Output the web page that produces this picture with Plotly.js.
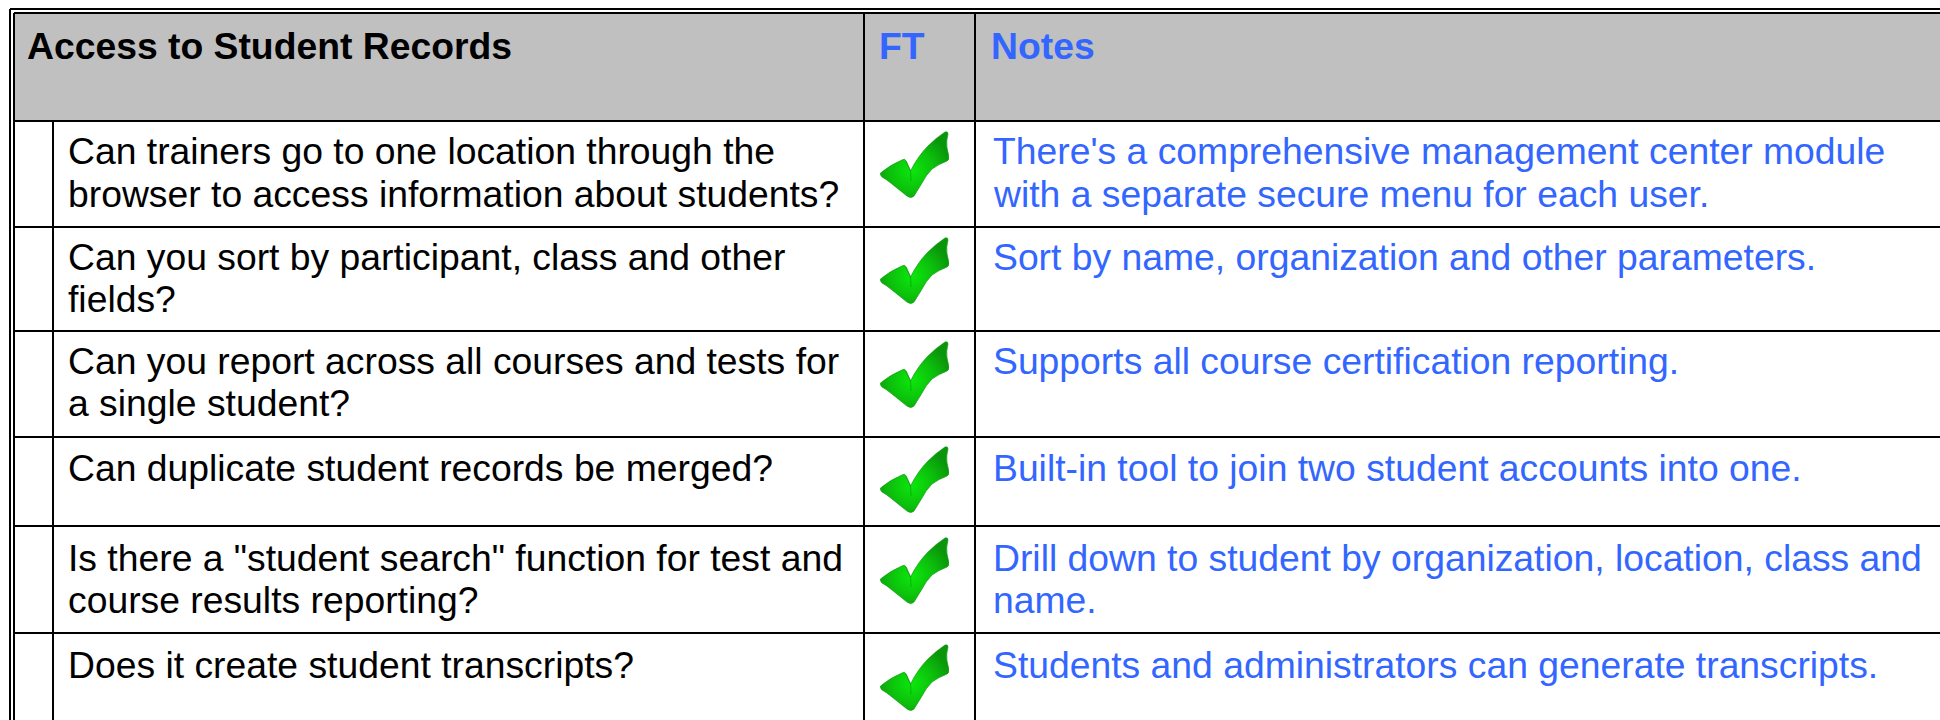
<!DOCTYPE html>
<html><head><meta charset="utf-8">
<script src="https://cdn.plot.ly/plotly-3.0.1.min.js"></script>
<style>html,body{margin:0;padding:0;background:#fff}#c{width:1940px;height:720px}</style>
</head><body><div id="c"></div>
<script>
var headers = ["Access to Student Records", "FT", "Notes"];
var questions = [
  ["Can trainers go to one location through the", "browser to access information about students?"],
  ["Can you sort by participant, class and other", "fields?"],
  ["Can you report across all courses and tests for", "a single student?"],
  ["Can duplicate student records be merged?"],
  ["Is there a \"student search\" function for test and", "course results reporting?"],
  ["Does it create student transcripts?"]
];
var notes = [
  ["There's a comprehensive management center module", "with a separate secure menu for each user."],
  ["Sort by name, organization and other parameters."],
  ["Supports all course certification reporting."],
  ["Built-in tool to join two student accounts into one."],
  ["Drill down to student by organization, location, class and", "name."],
  ["Students and administrators can generate transcripts."]
];
var ftChecked = [true, true, true, true, true, true];
var rowLines = [121, 227, 331, 437, 526, 633];
var baselines = [162, 267.5, 371.5, 478.5, 568.5, 675.5];
var checkTops = [131, 237, 341, 446, 537, 644];
var colLines = [14, 53, 864, 975];

var CHECK = 'data:image/svg+xml;base64,' + btoa('<svg xmlns="http://www.w3.org/2000/svg" width="69" height="67" viewBox="0 0 69 67"><defs><radialGradient id="g" cx="46%" cy="58%" r="58%"><stop offset="0" stop-color="#0ce80c"/><stop offset="0.55" stop-color="#0cc00c"/><stop offset="1" stop-color="#0a960a"/></radialGradient></defs><path d="M0.5 42 Q10 34 22 29 Q25 27 26 30 L30.5 40 Q38 25 48 15 Q56 7 65 1 Q68 0 68 3 Q66 10 67 17 L69 26 Q69 29 67 30 Q59 33 52 38 Q46 44 42 52 L34 65 Q31 68 27 65 L12 53 Q6 48 2 46 Q0 44 0.5 42 Z" fill="url(#g)" stroke="#129a12" stroke-width="0.7"/><path d="M26 30 L30.5 40 L31 50" fill="none" stroke="#0a8f0a" stroke-width="1.2" stroke-opacity="0.45"/></svg>');

var shapes = [], annotations = [], images = [];
function line(x0,y0,x1,y1,w){shapes.push({type:'line',xref:'x',yref:'y',x0:x0,y0:y0,x1:x1,y1:y1,line:{color:'#000',width:w}});}
shapes.push({type:'rect',xref:'x',yref:'y',x0:14,x1:1940,y0:13,y1:121,fillcolor:'#c0c0c0',line:{width:0},layer:'below'});
line(10,9,1940,9,2); line(10,9,10,720,2);
line(14,13,1940,13,2); line(14,13,14,720,2);
rowLines.forEach(function(y){line(14,y,1940,y,2);});
line(colLines[1],rowLines[0],colLines[1],720,2);
line(colLines[2],13,colLines[2],720,2);
line(colLines[3],13,colLines[3],720,2);

var SIZE = 37.3, PITCH = 42.4;
function text(x,baseline,t,color,bold){annotations.push({xref:'x',yref:'y',x:x,y:baseline+SIZE*0.3,text:bold?'<b>'+t+'</b>':t,showarrow:false,xanchor:'left',yanchor:'bottom',align:'left',borderpad:0,font:{family:'"Liberation Sans",Arial,sans-serif',size:SIZE,color:color}});}
var BLUE='#3366ff';
text(26,57,headers[0],'#000',true);
text(877.5,57,headers[1],BLUE,true);
text(990,57,headers[2],BLUE,true);
questions.forEach(function(q,i){q.forEach(function(s,j){text(67,baselines[i]+j*PITCH,s,'#000',false);});});
notes.forEach(function(n,i){n.forEach(function(s,j){text(992,baselines[i]+j*PITCH,s,BLUE,false);});});
ftChecked.forEach(function(c,i){ if(c) images.push({source:CHECK,xref:'x',yref:'y',x:880,y:checkTops[i],sizex:69,sizey:67,xanchor:'left',yanchor:'top',sizing:'stretch',layer:'above'}); });

Plotly.newPlot('c',[{x:[0,1940],y:[0,720],type:'scatter',mode:'none',hoverinfo:'skip',showlegend:false}],{
  width:1940,height:720,margin:{l:0,r:0,t:0,b:0},paper_bgcolor:'#fff',plot_bgcolor:'#fff',showlegend:false,
  xaxis:{range:[0,1940],visible:false,fixedrange:true},
  yaxis:{range:[720,0],visible:false,fixedrange:true},
  shapes:shapes,annotations:annotations,images:images
},{staticPlot:true,displayModeBar:false});
</script></body></html>
